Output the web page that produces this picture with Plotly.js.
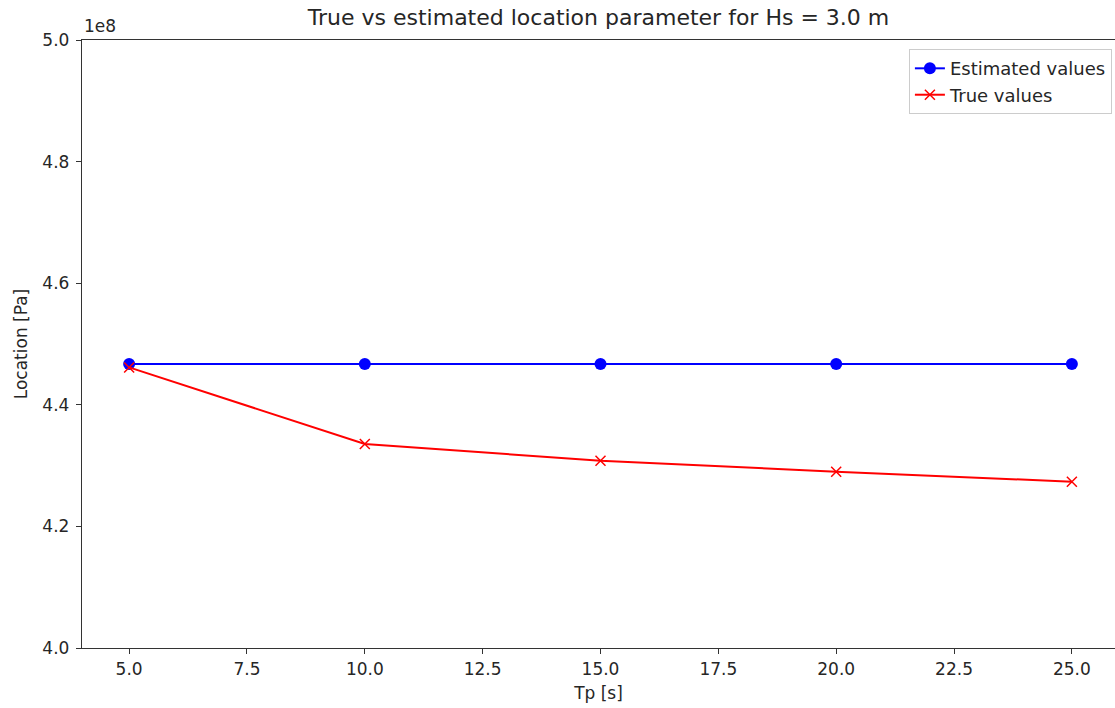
<!DOCTYPE html>
<html>
<head>
<meta charset="utf-8">
<script src="https://cdn.plot.ly/plotly-3.0.1.min.js"></script>
<style>html,body{margin:0;padding:0;background:#fff;}#chart{width:1115px;height:708px;}</style>
</head>
<body>
<div id="chart"></div>
<script>
const tp = [5, 10, 15, 20, 25];
const estimatedValues = [4.467e8, 4.467e8, 4.467e8, 4.467e8, 4.467e8];
const trueValues = [4.4615e8, 4.3355e8, 4.308e8, 4.290e8, 4.2735e8];
const yTickVals = [4.0e8, 4.2e8, 4.4e8, 4.6e8, 4.8e8, 5.0e8];
const xTickVals = [5, 7.5, 10, 12.5, 15, 17.5, 20, 22.5, 25];

const font = {family: 'DejaVu Sans, sans-serif', color: '#262626'};
const f = s => Object.assign({size: s}, font);

const traces = [
  {
    x: tp, y: estimatedValues, name: 'Estimated values', type: 'scatter', mode: 'lines+markers',
    line: {color: '#0000ff', width: 2},
    marker: {symbol: 'circle', size: 12, color: '#0000ff'}
  },
  {
    x: tp, y: trueValues, name: 'True values', type: 'scatter', mode: 'lines+markers',
    line: {color: '#ff0000', width: 2},
    marker: {symbol: 'x-thin', size: 10, line: {color: '#ff0000', width: 1.5}, color: '#ff0000'}
  }
];

const layout = {
  width: 1115, height: 708,
  margin: {l: 82, r: 0, t: 40, b: 60},
  paper_bgcolor: '#fff', plot_bgcolor: '#fff',
  font: f(17),
  title: {text: 'True vs estimated location parameter for Hs = 3.0 m', font: f(22), x: 0.5, xref: 'paper', y: 0.975, yanchor: 'middle'},
  showlegend: true,
  legend: {x: 0.997, xanchor: 'right', y: 0.985, yanchor: 'top', bordercolor: '#cccccc', borderwidth: 1, bgcolor: 'rgba(255,255,255,0.8)', font: f(18)},
  xaxis: {
    range: [4, 25.915], tickvals: xTickVals, ticktext: xTickVals.map(v => v.toFixed(1)),
    showgrid: false, zeroline: false, showline: true, linecolor: '#333', linewidth: 1.2, mirror: true,
    ticks: 'outside', ticklen: 5, tickwidth: 1, tickcolor: '#333',
    tickfont: f(17),
    title: {text: 'Tp [s]', font: f(17), standoff: 9}
  },
  yaxis: {
    range: [4.0e8, 5.0e8], tickvals: yTickVals, ticktext: yTickVals.map(v => (v / 1e8).toFixed(1)),
    showgrid: false, zeroline: false, showline: true, linecolor: '#333', linewidth: 1.2,
    ticks: 'outside', ticklen: 5, tickwidth: 1, tickcolor: '#333',
    tickfont: f(17), ticklabelstandoff: 3,
    title: {text: 'Location [Pa]', font: f(17), standoff: 10}
  },
  annotations: [
    {text: '1e8', xref: 'paper', yref: 'paper', x: 0, y: 1, xanchor: 'left', yanchor: 'bottom', yshift: 2, showarrow: false, font: f(17)}
  ]
};

Plotly.newPlot('chart', traces, layout, {displayModeBar: false, staticPlot: true});
</script>
</body>
</html>
